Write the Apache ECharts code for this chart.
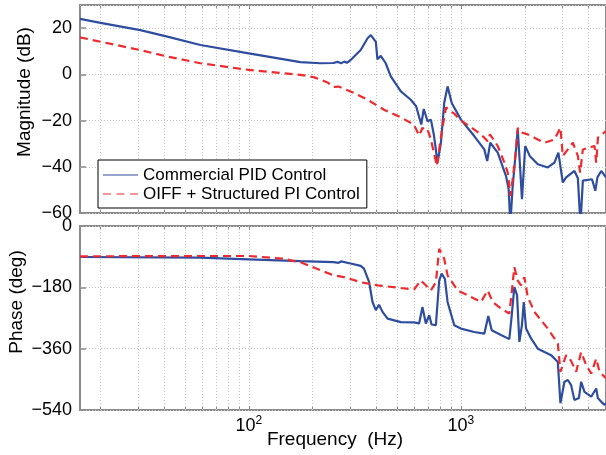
<!DOCTYPE html>
<html><head><meta charset="utf-8">
<script src="https://cdn.jsdelivr.net/npm/echarts@6/dist/echarts.min.js"></script>
<style>html,body{margin:0;padding:0;background:#fff}#c{width:606px;height:455px}</style>
</head><body><div id="c"></div>
<script>
const seriesNames = ['Commercial PID Control', 'OIFF + Structured PI Control'];
const freqRange = [16, 4830];
const magRange = [-60, 30];
const phaseRange = [-540, 0];
const gridFreqs = [20,30,40,50,60,70,80,90,200,300,400,500,600,700,800,900,2000,3000,4000];
const tickFreqs = [20,30,40,50,60,70,80,90,100,200,300,400,500,600,700,800,900,1000,2000,3000,4000];

// Magnitude (dB) - Commercial PID
const pidMagF = [16,20,30.8,41.3,59.1,100,175,218,250,262,272,282,290,302,337,363,376,390,397,404,419,442,467,521,580,615,650,668,696,722,745,776,805,834,865,905,1000,1155,1289,1330,1375,1491,1632,1680,1710,1750,1853,1900,1940,2010,2110,2304,2568,2759,2880,3023,3133,3429,3560,3660,3757,4150,4300,4400,4587,4830];
const pidMagV = [24,22.3,19.1,16.3,12.7,9.1,5.3,4.8,4.9,5.4,4.8,5.5,5.0,6.2,10.5,15.6,17,15,14.1,6.5,8,4.8,-0.9,-7.4,-11,-13.8,-21.7,-15,-20.3,-19.6,-26,-38.2,-29.6,-12.4,-5.2,-12.4,-19.6,-26.7,-32.5,-37.5,-29.6,-33.9,-44,-50,-65,-49.7,-23.9,-40,-54,-31,-35.3,-38.9,-40.3,-38.2,-33.9,-46.8,-44.6,-41.8,-45,-65,-46,-45.4,-50.4,-44.6,-41.8,-44.6];

// Magnitude (dB) - OIFF + Structured PI
const oiffMagF = [16,20,30.8,41.3,59.1,100,175,202,235,251,265,302,363,434,520,600,635,659,683,700,722,770,805,850,930,1000,1100,1200,1289,1337,1370,1420,1491,1600,1662,1710,1750,1800,1853,1900,2065,2220,2475,2759,2945,3023,3192,3370,3558,3648,3757,4264,4344,4425,4830];
const oiffMagV = [16,14.1,10.5,7.7,4.8,1.9,-0.2,-1.2,-3.5,-5.5,-5.3,-7.4,-11,-15.3,-18.6,-21.7,-26.5,-23.1,-25,-24.5,-28.2,-39.7,-27,-14.3,-17,-20,-22.5,-25,-27.4,-29,-26,-28,-31,-38,-42.5,-52.6,-46,-36.8,-23.1,-25,-26,-27.4,-29.6,-28.2,-23.1,-35.3,-32.5,-29.6,-35.3,-42.5,-32.5,-31,-38.2,-27.4,-24.6];

// Phase (deg) - Commercial PID
const pidPhF = [16,59,100,175,251,265,272,302,337,349,369,383,397,411,427,451,521,600,635,659,683,709,727,762,790,811,840,865,930,1000,1155,1289,1346,1397,1545,1691,1736,1786,1839,1886,1940,1978,2028,2141,2304,2662,2863,2945,3076,3192,3308,3429,3600,3688,3823,4113,4344,4420,4587,4754,4830];
const pidPhV = [-91,-93,-98,-103,-106,-108,-104,-110,-117,-125,-164,-223,-247,-231,-252,-272,-282,-283,-286,-238,-286,-262,-289,-291,-160,-140,-155,-223,-291,-301,-311,-316,-264,-306,-320,-332,-262,-179,-203,-340,-290,-223,-301,-330,-360,-379,-399,-520,-457,-452,-467,-511,-505,-457,-487,-501,-477,-505,-516,-525,-520];

// Phase (deg) - OIFF + Structured PI
const oiffPhF = [16,59,100,146,163,175,218,251,281,337,404,521,602,647,683,722,762,790,805,834,865,965,1076,1243,1337,1412,1545,1691,1736,1786,1853,1921,1991,2065,2220,2568,2863,2945,3133,3300,3493,3688,3894,4113,4344,4503,4830];
const oiffPhV = [-89,-88,-88,-96,-103,-106,-130,-145,-150,-165,-174,-182,-186,-160,-174,-189,-165,-67,-62,-96,-145,-189,-203,-223,-189,-223,-242,-257,-194,-121,-160,-174,-150,-208,-252,-301,-345,-428,-379,-395,-428,-370,-408,-433,-389,-428,-447];

const BLUE = '#2f4d9e', RED = '#ee2a2e', FRAME = '#8a8a8a', GRIDC = '#c4c4c4';
const FONT = 'Liberation Sans';
const zip = (f, v) => f.map((x, i) => [x, v[i]]);
const minus = v => String(v).replace('-', '\u2212');

function xAxisDef(gi, position, showLabel) {
  return {
    type: 'log', logBase: 10, gridIndex: gi, position: position,
    min: freqRange[0], max: freqRange[1],
    axisLine: { show: false, onZero: false },
    axisTick: { show: true, inside: true, length: 4, customValues: tickFreqs, lineStyle: { color: FRAME, width: 1 } },
    splitLine: { show: position === 'bottom', lineStyle: { color: GRIDC, type: [1, 2], width: 1 } },
    axisLabel: showLabel ? {
      show: true, margin: 5, fontFamily: FONT, fontSize: 18, color: '#000',
      showMinLabel: false, showMaxLabel: false,
      formatter: v => '10{s|' + Math.round(Math.log10(v)) + '}',
      rich: { s: { fontSize: 12, fontFamily: FONT, color: '#000', padding: [0, 0, 10, 0] } }
    } : { show: false }
  };
}
function yAxisDef(gi, r, interval) {
  return {
    type: 'value', gridIndex: gi, min: r[0], max: r[1], interval: interval,
    axisLine: { show: false, onZero: false },
    axisTick: { show: true, inside: true, length: 6, lineStyle: { color: FRAME, width: 1.5 } },
    splitLine: { show: true, lineStyle: { color: GRIDC, type: [1, 2], width: 1 } },
    axisLabel: { margin: 8, fontFamily: FONT, fontSize: 18, color: '#000', showMaxLabel: r[1] === 0, formatter: minus }
  };
}
const gridMarkLine = {
  silent: true, symbol: 'none', animation: false, z: 1, label: { show: false },
  lineStyle: { color: GRIDC, type: [1, 2], width: 1 },
  data: gridFreqs.map(f => ({ xAxis: f }))
};
function lineSeries(name, xi, data, color, dashed) {
  const s = {
    name: name, type: 'line', xAxisIndex: xi, yAxisIndex: xi, data: data,
    showSymbol: false, symbol: 'none', z: dashed ? 4 : 3, animation: false,
    lineStyle: { color: color, width: 2.2, type: dashed ? [8, 5] : 'solid' },
    itemStyle: { color: color }
  };
  if (!dashed) s.markLine = gridMarkLine;
  return s;
}

const chart = echarts.init(document.getElementById('c'), null, { renderer: 'canvas' });
chart.setOption({
  animation: false,
  backgroundColor: '#fff',
  grid: [
    { left: 80, top: 5, width: 526, height: 208, show: true, borderColor: FRAME, borderWidth: 2, backgroundColor: '#fff', outerBoundsMode: 'none', containLabel: false },
    { left: 80, top: 226, width: 526, height: 184, show: true, borderColor: FRAME, borderWidth: 2, backgroundColor: '#fff', outerBoundsMode: 'none', containLabel: false }
  ],
  xAxis: [xAxisDef(0, 'bottom', false), xAxisDef(1, 'bottom', true), xAxisDef(0, 'top', false), xAxisDef(1, 'top', false)],
  yAxis: [yAxisDef(0, magRange, 20), yAxisDef(1, phaseRange, 180)],
  legend: {
    data: [
      { name: seriesNames[0], icon: 'path://M0,0H35V1.2H0Z' },
      { name: seriesNames[1], icon: 'path://M0,0H7V1.2H0Z M12,0H19V1.2H12Z M24,0H31V1.2H24Z' }
    ],
    orient: 'vertical', left: 98, top: 160, symbolKeepAspect: false,
    backgroundColor: '#fff', borderColor: '#000', borderWidth: 1,
    padding: [6, 7, 5, 5], itemWidth: 35, itemHeight: 1.2, itemGap: 1,
    textStyle: { fontFamily: FONT, fontSize: 17, color: '#000', lineHeight: 18 }
  },
  graphic: [
    { type: 'text', x: 25, y: 92, rotation: Math.PI / 2, style: { text: 'Magnitude (dB)', fontFamily: FONT, fontSize: 19, fill: '#000', align: 'center', verticalAlign: 'middle' } },
    { type: 'text', x: 17, y: 302, rotation: Math.PI / 2, style: { text: 'Phase (deg)', fontFamily: FONT, fontSize: 19, fill: '#000', align: 'center', verticalAlign: 'middle' } },
    { type: 'text', x: 335, y: 440, style: { text: 'Frequency  (Hz)', fontFamily: FONT, fontSize: 19, fill: '#000', align: 'center', verticalAlign: 'middle' } }
  ],
  series: [
    lineSeries(seriesNames[0], 0, zip(pidMagF, pidMagV), BLUE, false),
    lineSeries(seriesNames[1], 0, zip(oiffMagF, oiffMagV), RED, true),
    lineSeries(seriesNames[0], 1, zip(pidPhF, pidPhV), BLUE, false),
    lineSeries(seriesNames[1], 1, zip(oiffPhF, oiffPhV), RED, true)
  ]
});
</script></body></html>
